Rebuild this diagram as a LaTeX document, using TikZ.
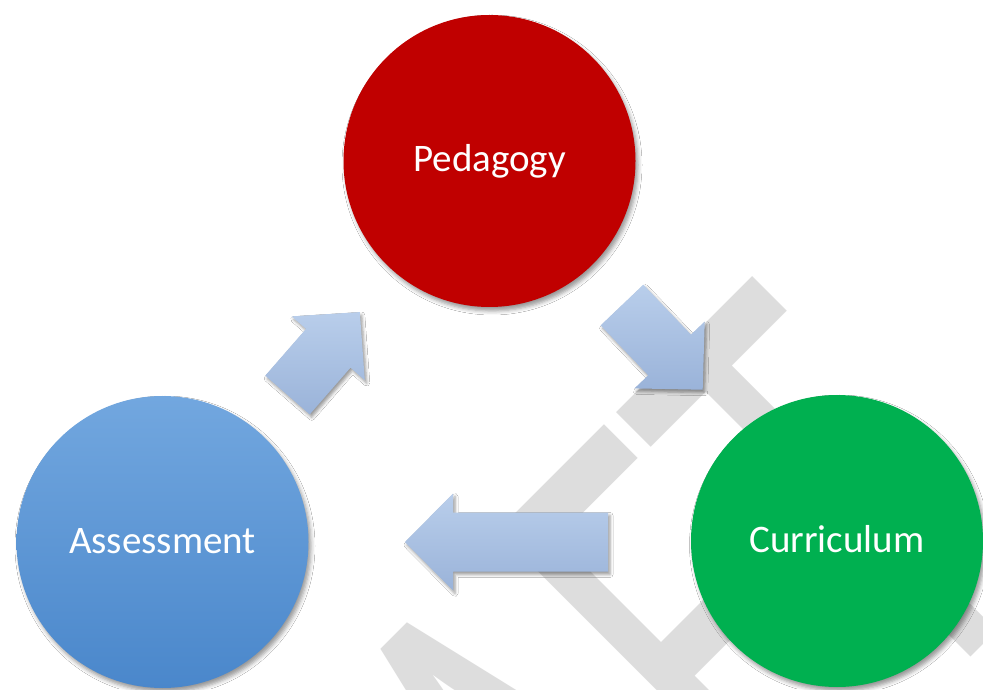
\documentclass[tikz,border=0pt]{standalone}
\usepackage{fontspec}
\setmainfont{Carlito}
\usetikzlibrary{calc,shadows.blur}
\definecolor{wmgray}{RGB}{221,221,221}
\definecolor{pedred}{RGB}{192,0,0}
\definecolor{curgreen}{RGB}{0,176,80}
\definecolor{asstop}{RGB}{114,167,223}
\definecolor{assbot}{RGB}{74,135,203}
\definecolor{arrowtop}{RGB}{185,206,235}
\definecolor{arrowbot}{RGB}{154,179,217}
\newcommand\drawblockarrow[3]{%
  \path[blockarrow]
    ($(#1)+(#2+90:29.5)$) --
    ($(#1)+(#2:#3-48)+(#2+90:29.5)$) --
    ($(#1)+(#2:#3-48)+(#2+90:48.5)$) --
    ($(#1)+(#2:#3)$) --
    ($(#1)+(#2:#3-48)+(#2-90:48.5)$) --
    ($(#1)+(#2:#3-48)+(#2-90:29.5)$) --
    ($(#1)+(#2-90:29.5)$) -- cycle;}
\begin{document}
\begin{tikzpicture}[x=1pt,y=1pt,
  bubble/.style={circle, minimum size=292pt, inner sep=0pt, text=white,
    font=\fontsize{39}{47}\selectfont, text height=22pt, text depth=0pt,
    blur shadow={shadow xshift=2.5pt, shadow yshift=-4pt, shadow blur radius=4pt, shadow opacity=40}},
  blockarrow/.style={top color=arrowtop, bottom color=arrowbot, draw=none,
    blur shadow={shadow xshift=2pt, shadow yshift=-3pt, shadow blur radius=3pt, shadow opacity=40}},
  wm/.style={anchor=base east, inner sep=0pt, text=wmgray, rotate=45, xscale=4.15, yscale=6.6,
    transform shape, font=\fontsize{100}{100}\selectfont}]
\useasboundingbox (0,0) rectangle (983,689);
\clip (0,0) rectangle (983,689);
\fill[white] (0,0) rectangle (983,689);
\node[wm] (wmark) at (1056.3,117.2) {DRAFT};
% arrows
\coordinate (a1) at (287.5,294);
\coordinate (a2) at (622,384);
\coordinate (a3) at (608,147);
\drawblockarrow{a1}{48.9}{110}
\drawblockarrow{a2}{-46.4}{117}
\drawblockarrow{a3}{180}{203}
% circles
\node[bubble, fill=pedred] (ped) at (489.5,528) {Pedagogy};
\node[bubble, fill=curgreen] (cur) at (837,148) {Curriculum};
\node[bubble, top color=asstop, bottom color=assbot] (ass) at (162.5,147) {Assessment};
\end{tikzpicture}
\end{document}
